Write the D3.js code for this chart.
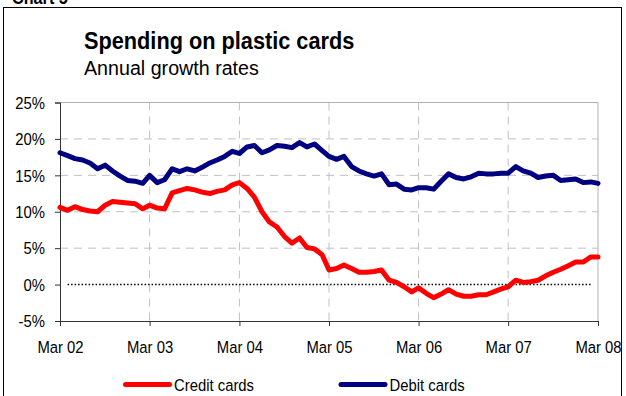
<!DOCTYPE html>
<html>
<head>
<meta charset="utf-8">
<script src="https://cdn.jsdelivr.net/npm/d3@7"></script>
<style>
  body { margin: 0; background: #fff; }
  svg text { font-family: "Liberation Sans", Arial, sans-serif; fill: #000; }
</style>
</head>
<body>
<div id="chart"></div>
<script>
// monthly annual growth rates, Mar 2002 .. Mar 2008 (%)
const creditCards = [
  10.6, 10.2, 10.7, 10.3, 10.1, 10.0, 10.9, 11.4, 11.3, 11.2, 11.1, 10.4,
  10.9, 10.5, 10.4, 12.6, 12.9, 13.2, 13.0, 12.7, 12.5, 12.8, 13.0, 13.7,
  14.0, 13.2, 12.0, 10.0, 8.6, 7.9, 6.6, 5.7, 6.4, 5.1, 4.9, 4.1,
  2.0, 2.2, 2.7, 2.2, 1.7, 1.7, 1.8, 2.0, 0.6, 0.3, -0.3, -1.0,
  -0.45, -1.2, -1.8, -1.3, -0.7, -1.3, -1.6, -1.6, -1.4, -1.4, -1.0, -0.6,
  -0.3, 0.6, 0.3, 0.4, 0.6, 1.2, 1.7, 2.1, 2.6, 3.1, 3.1, 3.8,
  3.8
];
const debitCards = [
  18.1, 17.7, 17.3, 17.1, 16.7, 15.9, 16.4, 15.6, 14.9, 14.3, 14.2, 13.9,
  15.0, 14.0, 14.4, 15.9, 15.5, 15.9, 15.6, 16.1, 16.7, 17.1, 17.6, 18.3,
  18.0, 18.9, 19.1, 18.1, 18.5, 19.1, 19.0, 18.8, 19.5, 18.9, 19.3, 18.4,
  17.6, 17.2, 17.6, 16.2, 15.6, 15.2, 14.9, 15.2, 13.7, 13.8, 13.1, 13.0,
  13.3, 13.3, 13.1, 14.2, 15.2, 14.7, 14.5, 14.8, 15.3, 15.2, 15.2, 15.3,
  15.3, 16.2, 15.6, 15.3, 14.7, 14.9, 15.0, 14.3, 14.4, 14.5, 14.0, 14.1,
  13.9
];
const yTicks = [-5, 0, 5, 10, 15, 20, 25];
const xTickLabels = ["Mar 02", "Mar 03", "Mar 04", "Mar 05", "Mar 06", "Mar 07", "Mar 08"];
const seriesNames = ["Credit cards", "Debit cards"];
const seriesColors = ["#ff0000", "#000080"];

const width = 626, height = 396;
const margin = {top: 102.5, right: 28, bottom: 75, left: 60};
const plotW = width - margin.left - margin.right;
const plotH = height - margin.top - margin.bottom;
const squeeze = 0.9; // text in the original is horizontally condensed

const months = d3.timeMonth.range(new Date(2002, 2, 1), new Date(2008, 2, 2));
const yearTicks = d3.timeYear.every(1).range(new Date(2002, 0, 1), new Date(2009, 0, 1))
  .map(d => new Date(d.getFullYear(), 2, 1));

const svg = d3.select("#chart").append("svg")
  .attr("width", width)
  .attr("height", height);

function addText(px, py, str, size, weight, sx) {
  return svg.append("text")
    .attr("transform", `translate(${px},${py}) scale(${sx},1)`)
    .style("font-size", size + "px")
    .style("font-weight", weight)
    .text(str);
}

// outer frame and the caption that is clipped by the top edge
svg.append("rect")
  .attr("x", 3.5).attr("y", 7.5)
  .attr("width", 618).attr("height", 400)
  .attr("fill", "none").attr("stroke", "#000").attr("stroke-width", 1);
addText(12, 3.5, "Chart 5", 18, "bold", squeeze);

addText(84, 48.5, "Spending on plastic cards", 23, "bold", 0.945);
addText(84, 75, "Annual growth rates", 21, "normal", 0.937);

const g = svg.append("g")
  .attr("transform", `translate(${margin.left},${margin.top})`);

const x = d3.scaleTime()
  .domain([months[0], months[months.length - 1]])
  .range([0, plotW]);
const y = d3.scaleLinear()
  .domain([-5, 25])
  .range([plotH, 0]);

// grid
g.selectAll("line.hgrid")
  .data(yTicks.filter(v => v > 0 && v < 25))
  .enter().append("line")
  .attr("class", "hgrid")
  .attr("x1", 0).attr("x2", plotW)
  .attr("y1", d => y(d)).attr("y2", d => y(d))
  .attr("stroke", "#c0c0c0").attr("stroke-dasharray", "8,6");
g.selectAll("line.vgrid")
  .data(yearTicks.slice(1, -1))
  .enter().append("line")
  .attr("class", "vgrid")
  .attr("x1", d => x(d)).attr("x2", d => x(d))
  .attr("y1", 0).attr("y2", plotH)
  .attr("stroke", "#c0c0c0").attr("stroke-dasharray", "8,6");
// plot-area border (top & right)
g.append("path")
  .attr("d", `M0,${y(25)}H${plotW}V${plotH}`)
  .attr("fill", "none").attr("stroke", "#b0b0b0");

// zero line
const zeroMonths = months.slice(1, -1);
g.append("path")
  .datum(zeroMonths)
  .attr("d", d3.line().x(d => x(d)).y(() => y(0)))
  .attr("fill", "none")
  .attr("stroke", "#000").attr("stroke-width", 1.5)
  .attr("stroke-dasharray", "1.5,2");

// axes
const yAxis = d3.axisLeft(y).tickValues(yTicks).tickSize(5).tickFormat(d => d + "%");
const xAxis = d3.axisBottom(x).tickValues(yearTicks).tickSize(5).tickFormat((d, i) => xTickLabels[i]);

g.append("g").attr("class", "y-axis").call(yAxis);
g.append("g").attr("class", "x-axis")
  .attr("transform", `translate(0,${plotH})`)
  .call(xAxis);

g.selectAll(".domain").attr("stroke", "#333");
g.selectAll(".tick line").attr("stroke", "#333");
g.selectAll(".y-axis .tick text")
  .attr("x", null).attr("dy", null)
  .attr("transform", `translate(-15,5.8) scale(${squeeze},1)`)
  .style("font-size", "16.5px")
  .style("font-family", "'Liberation Sans', Arial, sans-serif")
  .attr("fill", "#000");
g.selectAll(".x-axis .tick text")
  .attr("y", null).attr("dy", null)
  .attr("transform", `translate(0,32) scale(${squeeze},1)`)
  .style("font-size", "16.5px")
  .style("font-family", "'Liberation Sans', Arial, sans-serif")
  .attr("fill", "#000");

// series
const line = d3.line()
  .x((d, i) => x(months[i]))
  .y(d => y(d));
[creditCards, debitCards].forEach((s, k) => {
  g.append("path")
    .datum(s)
    .attr("d", line)
    .attr("fill", "none")
    .attr("stroke", seriesColors[k])
    .attr("stroke-width", 5)
    .attr("stroke-linejoin", "round")
    .attr("stroke-linecap", "round");
});

// legend
const legend = svg.selectAll(".legend")
  .data(seriesNames)
  .enter().append("g")
  .attr("class", "legend")
  .attr("transform", (d, i) => `translate(${125.5 + i * 215.5},384.5)`);
legend.append("line")
  .attr("x1", 0).attr("x2", 44)
  .attr("y1", 0).attr("y2", 0)
  .attr("stroke", (d, i) => seriesColors[i])
  .attr("stroke-width", 5)
  .attr("stroke-linecap", "round");
legend.append("text")
  .attr("transform", `translate(48.5,6.5) scale(${squeeze},1)`)
  .style("font-size", "16.5px")
  .text(d => d);
</script>
</body>
</html>
